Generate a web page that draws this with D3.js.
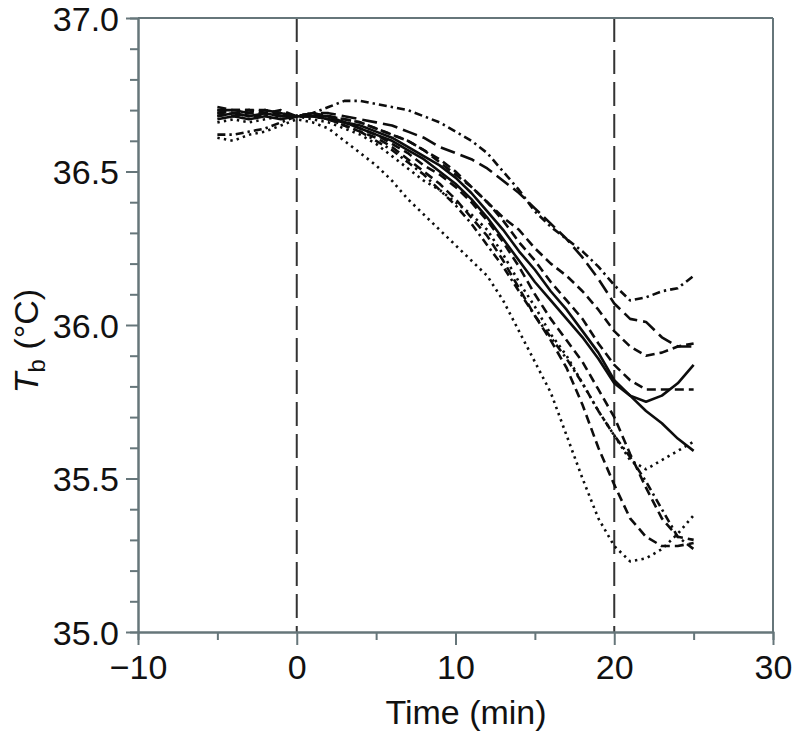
<!DOCTYPE html>
<html><head><meta charset="utf-8">
<script src="https://cdn.jsdelivr.net/npm/d3@7"></script>
<style>
html,body{margin:0;padding:0;background:#fff;}
svg{display:block;font-family:"Liberation Sans",Arial,Helvetica,sans-serif;}
</style></head>
<body>
<svg id="c" width="796" height="733"></svg>
<script>
// time points (min)
const times = d3.range(-5, 26, 1);
// individual body-temperature traces (°C), one value per minute from -5 to 25
const traceA = [36.68,36.69,36.68,36.68,36.69,36.68,36.69,36.71,36.73,36.73,36.72,36.71,36.70,36.68,36.66,36.63,36.60,36.56,36.50,36.44,36.37,36.32,36.28,36.24,36.19,36.13,36.08,36.09,36.11,36.12,36.16];
const traceB = [36.70,36.70,36.69,36.70,36.69,36.68,36.69,36.69,36.68,36.67,36.66,36.65,36.63,36.61,36.58,36.56,36.54,36.51,36.47,36.43,36.38,36.33,36.28,36.22,36.15,36.07,36.02,36.01,35.96,35.93,35.93];
const traceB2 = [36.69,36.70,36.70,36.69,36.69,36.68,36.68,36.68,36.67,36.66,36.64,36.62,36.60,36.57,36.53,36.49,36.45,36.40,36.35,36.31,36.25,36.20,36.16,36.11,36.05,35.98,35.93,35.90,35.91,35.93,35.94];
const traceC = [36.71,36.70,36.70,36.69,36.70,36.68,36.69,36.68,36.67,36.66,36.64,36.62,36.60,36.57,36.54,36.50,36.45,36.40,36.34,36.27,36.21,36.14,36.08,36.02,35.94,35.87,35.82,35.79,35.79,35.79,35.79];
const traceD = [36.68,36.69,36.68,36.69,36.68,36.68,36.68,36.68,36.66,36.65,36.63,36.61,36.58,36.55,36.52,36.48,36.43,36.37,36.31,36.24,36.18,36.11,36.05,35.98,35.91,35.82,35.77,35.75,35.77,35.81,35.87];
const traceE = [36.67,36.68,36.67,36.68,36.67,36.68,36.68,36.67,36.66,36.64,36.62,36.60,36.57,36.54,36.50,36.46,36.41,36.35,36.28,36.21,36.14,36.08,36.02,35.96,35.89,35.81,35.77,35.72,35.68,35.63,35.59];
const traceF = [36.66,36.67,36.66,36.67,36.68,36.68,36.67,36.66,36.64,36.62,36.59,36.55,36.51,36.47,36.44,36.40,36.36,36.31,36.23,36.14,36.06,35.97,35.90,35.81,35.72,35.64,35.56,35.53,35.56,35.59,35.62];
const traceG = [36.70,36.69,36.70,36.70,36.69,36.68,36.68,36.67,36.65,36.63,36.61,36.58,36.54,36.50,36.46,36.41,36.35,36.29,36.21,36.12,36.03,35.95,35.86,35.74,35.60,35.48,35.37,35.31,35.28,35.28,35.29];
const traceH = [36.62,36.62,36.63,36.64,36.66,36.68,36.68,36.67,36.65,36.63,36.60,36.57,36.53,36.49,36.44,36.39,36.33,36.26,36.19,36.11,36.03,35.96,35.89,35.81,35.72,35.64,35.57,35.49,35.40,35.31,35.27];
const traceK = [36.69,36.68,36.69,36.69,36.68,36.68,36.69,36.68,36.66,36.64,36.62,36.59,36.56,36.52,36.49,36.45,36.40,36.34,36.27,36.19,36.10,36.02,35.95,35.88,35.79,35.70,35.58,35.47,35.37,35.31,35.30];
const traceI = [36.61,36.60,36.62,36.63,36.65,36.67,36.66,36.64,36.60,36.56,36.52,36.47,36.41,36.36,36.31,36.26,36.21,36.16,36.08,35.98,35.88,35.78,35.64,35.50,35.37,35.28,35.23,35.24,35.27,35.32,35.38];
// line style of each trace
const traceStyles = ["dashdot","longdash","dash","dash","solid","solid","dot","dash","dashdot","dash","dot"];
const traces = [traceA,traceB,traceB2,traceC,traceD,traceE,traceF,traceG,traceH,traceK,traceI];
// axis ticks
const xMajor = [-10,0,10,20,30];
const xMinor = [-5,5,15,25];
const yMajor = [35.0,35.5,36.0,36.5,37.0];
const yMinor = [35.1,35.2,35.3,35.4,35.6,35.7,35.8,35.9,36.1,36.2,36.3,36.4,36.6,36.7,36.8,36.9];
const refLines = [0,20];

const svg = d3.select("#c");
const x = d3.scaleLinear().domain([-10,30]).range([138,773]);
const y = d3.scaleLinear().domain([35,37]).range([632,18]);
const axisCol = "#66767a";
const fontSize = 34;

const dash = {solid:null, dash:"9,5", longdash:"15,6", dot:"2.4,4.2", dashdot:"8,4,2.4,4"};

// reference lines
svg.append("g").selectAll("line").data(refLines).join("line")
  .attr("x1",d=>x(d)).attr("x2",d=>x(d)).attr("y1",y(37)).attr("y2",y(35))
  .attr("stroke","#333").attr("stroke-width",2).attr("stroke-dasharray","24,8");

// traces
const line = d3.line().x((d,i)=>x(times[i])).y(d=>y(d));
svg.append("g").selectAll("path").data(traces).join("path")
  .attr("d",line)
  .attr("fill","none").attr("stroke","#0d0d0d").attr("stroke-width",2.6)
  .attr("stroke-linejoin","round")
  .attr("stroke-dasharray",(d,i)=>dash[traceStyles[i]]);

// frame top & right
svg.append("line").attr("x1",x(-10)).attr("x2",x(30)).attr("y1",y(37)).attr("y2",y(37)).attr("stroke",axisCol).attr("stroke-width",2);
svg.append("line").attr("x1",x(30)).attr("x2",x(30)).attr("y1",y(37)).attr("y2",y(35)).attr("stroke",axisCol).attr("stroke-width",2);

function styleAxis(g){
  g.select(".domain").attr("stroke",axisCol).attr("stroke-width",2);
  g.selectAll(".tick line").attr("stroke",axisCol).attr("stroke-width",2);
  g.selectAll(".tick text").attr("fill","#111").attr("font-size",fontSize).attr("font-family","Liberation Sans, Arial, sans-serif");
}
// x axis
svg.append("g").attr("transform",`translate(0,${y(35)})`)
  .call(d3.axisBottom(x).tickValues(xMinor).tickSize(8).tickFormat(""))
  .call(styleAxis);
svg.append("g").attr("transform",`translate(0,${y(35)})`)
  .call(d3.axisBottom(x).tickValues(xMajor).tickSize(13).tickPadding(10).tickSizeOuter(0).tickFormat(d3.format("d")))
  .call(styleAxis);
// y axis
svg.append("g").attr("transform",`translate(${x(-10)},0)`)
  .call(d3.axisLeft(y).tickValues(yMinor).tickSize(8).tickFormat(""))
  .call(styleAxis);
const yg = svg.append("g").attr("transform",`translate(${x(-10)},0)`)
  .call(d3.axisLeft(y).tickValues(yMajor).tickSize(12).tickPadding(7).tickSizeOuter(0).tickFormat(d3.format(".1f")))
  .call(styleAxis);
yg.selectAll(".tick text").attr("dy","0.36em");

// axis titles
svg.append("text").attr("x",466).attr("y",724).attr("text-anchor","middle")
  .attr("font-size",fontSize).attr("fill","#111").text("Time (min)");
const yt = svg.append("text").attr("transform","translate(38,341) rotate(-90)")
  .attr("text-anchor","middle").attr("font-size",fontSize).attr("fill","#111");
yt.append("tspan").attr("font-style","italic").text("T");
yt.append("tspan").attr("font-size",24).attr("dy",7).text("b");
yt.append("tspan").attr("dy",-7).text(" (°C)");
</script>
</body></html>
